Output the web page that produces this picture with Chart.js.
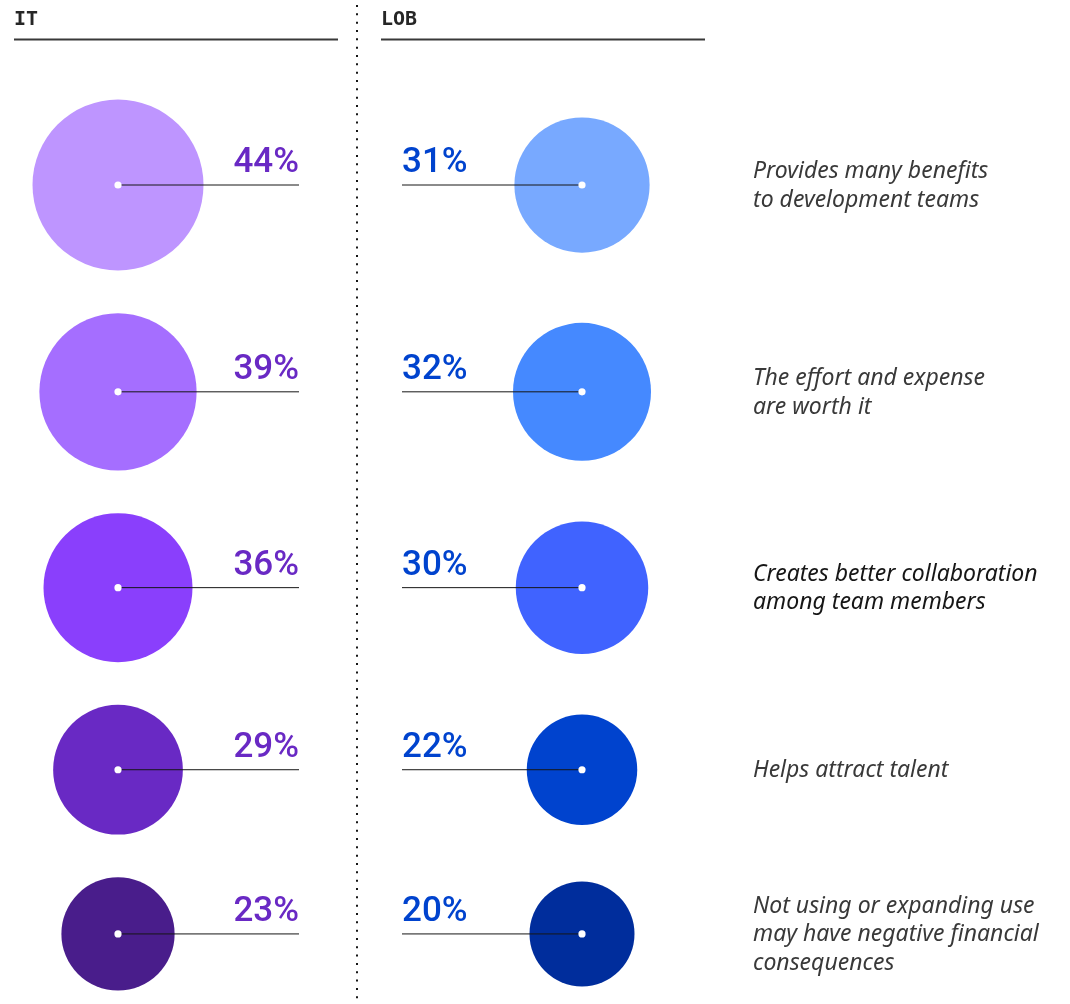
<!DOCTYPE html>
<html>
<head>
<meta charset="utf-8">
<title>IT vs LOB</title>
<script src="https://cdn.jsdelivr.net/npm/chart.js@4.4.1/dist/chart.umd.min.js"></script>
<style>
    html, body { margin: 0; padding: 0; background: #ffffff; }
    #wrap { position: relative; width: 1070px; height: 1004px; }
</style>
</head>
<body>
<div id="wrap"><canvas id="benefitsChart"></canvas></div>
<script>
// Survey data: one row per statement
const statements = [
    ['Provides many benefits', 'to development teams'],
    ['The effort and expense', 'are worth it'],
    ['Creates better collaboration', 'among team members'],
    ['Helps attract talent'],
    ['Not using or expanding use', 'may have negative financial', 'consequences']
];
const groups = ['IT', 'LOB'];
const itValues = [44, 39, 36, 29, 23];
const lobValues = [31, 32, 30, 22, 20];

// Colours
const itColors = ['#be95ff', '#a56eff', '#8a3ffc', '#6929c4', '#491d8b'];
const lobColors = ['#78a9ff', '#4589ff', '#4063ff', '#0043ce', '#002d9c'];
const itLabelColor = '#6929c4';
const lobLabelColor = '#0043ce';

// Layout (pixel units, the scales map 1:1 onto the canvas)
const WIDTH = 1070;
const HEIGHT = 1004;
const COL_X = { IT: 118, LOB: 582 };
const IT_LABEL_RIGHT = 299;
const LOB_LABEL_LEFT = 402;
const TEXT_X = 753;
const FIRST_ROW_Y = 185;
const ROW_PAD = 42.7;
const DIVIDER_X = 357;

// bubble radius grows with the percentage
const radiusFor = v => 25 + 1.375 * v;

// stack rows so the biggest bubbles in neighbouring rows keep the same gap
const rowY = [];
itValues.forEach((v, i) => {
    const r = Math.max(radiusFor(v), radiusFor(lobValues[i]));
    if (i === 0) {
        rowY.push(FIRST_ROW_Y);
    } else {
        const prevR = Math.max(radiusFor(itValues[i - 1]), radiusFor(lobValues[i - 1]));
        rowY.push(rowY[i - 1] + prevR + r + ROW_PAD);
    }
});

function bubbles(values, col) {
    return values.map((v, i) => ({ x: COL_X[col], y: rowY[i], r: radiusFor(v), v: v }));
}

// Leader lines, centre dots, value labels, statements, headers and divider
const overlayPlugin = {
    id: 'overlay',
    afterDatasetsDraw(chart) {
        const ctx = chart.ctx;
        ctx.save();

        chart.data.datasets.forEach((ds, di) => {
            const meta = chart.getDatasetMeta(di);
            const isIT = groups[di] === 'IT';
            meta.data.forEach((el, i) => {
                const x = el.x;
                const y = el.y;

                // leader line
                ctx.strokeStyle = '#161616';
                ctx.lineWidth = 1;
                ctx.beginPath();
                if (isIT) {
                    ctx.moveTo(x, y);
                    ctx.lineTo(IT_LABEL_RIGHT, y);
                } else {
                    ctx.moveTo(LOB_LABEL_LEFT, y);
                    ctx.lineTo(x, y);
                }
                ctx.stroke();

                // white centre dot
                ctx.fillStyle = '#ffffff';
                ctx.beginPath();
                ctx.arc(x, y, 3.6, 0, Math.PI * 2);
                ctx.fill();

                // value label
                ctx.font = '500 35px Roboto';
                ctx.textBaseline = 'alphabetic';
                ctx.fillStyle = isIT ? itLabelColor : lobLabelColor;
                ctx.textAlign = isIT ? 'right' : 'left';
                ctx.fillText(ds.data[i].v + '%', isIT ? IT_LABEL_RIGHT : LOB_LABEL_LEFT, y - 13);
            });
        });

        // statements on the right
        ctx.font = 'italic 23px "Noto Sans"';
        ctx.textAlign = 'left';
        ctx.textBaseline = 'middle';
        statements.forEach((lines, i) => {
            ctx.fillStyle = i === 2 ? '#161616' : '#393939';
            lines.forEach((line, j) => {
                const ly = rowY[i] + (j - (lines.length - 1) / 2) * 28.5 + 1;
                ctx.fillText(line, TEXT_X, ly);
            });
        });

        // column headers
        ctx.font = 'bold 20px "DejaVu Sans Mono"';
        ctx.textBaseline = 'alphabetic';
        ctx.fillStyle = '#262626';
        ctx.fillText(groups[0], 14, 25);
        ctx.fillText(groups[1], 381, 25);
        ctx.strokeStyle = '#393939';
        ctx.lineWidth = 2;
        ctx.beginPath();
        ctx.moveTo(14, 39.5);
        ctx.lineTo(338, 39.5);
        ctx.moveTo(381, 39.5);
        ctx.lineTo(705, 39.5);
        ctx.stroke();

        // dotted divider
        ctx.strokeStyle = '#161616';
        ctx.lineWidth = 2;
        ctx.setLineDash([2, 6.33]);
        ctx.beginPath();
        ctx.moveTo(DIVIDER_X, 5);
        ctx.lineTo(DIVIDER_X, HEIGHT);
        ctx.stroke();
        ctx.setLineDash([]);

        ctx.restore();
    }
};

new Chart(document.getElementById('benefitsChart'), {
    type: 'bubble',
    data: {
        datasets: [
            {
                label: groups[0],
                data: bubbles(itValues, 'IT'),
                backgroundColor: itColors,
                borderWidth: 0,
                hoverRadius: 0,
                clip: false
            },
            {
                label: groups[1],
                data: bubbles(lobValues, 'LOB'),
                backgroundColor: lobColors,
                borderWidth: 0,
                hoverRadius: 0,
                clip: false
            }
        ]
    },
    options: {
        responsive: true,
        maintainAspectRatio: false,
        animation: false,
        events: [],
        layout: { padding: 0, autoPadding: false },
        scales: {
            x: { type: 'linear', min: 0, max: WIDTH, display: false },
            y: { type: 'linear', min: 0, max: HEIGHT, reverse: true, display: false }
        },
        plugins: {
            legend: { display: false },
            tooltip: { enabled: false }
        }
    },
    plugins: [overlayPlugin]
});
</script>
</body>
</html>
